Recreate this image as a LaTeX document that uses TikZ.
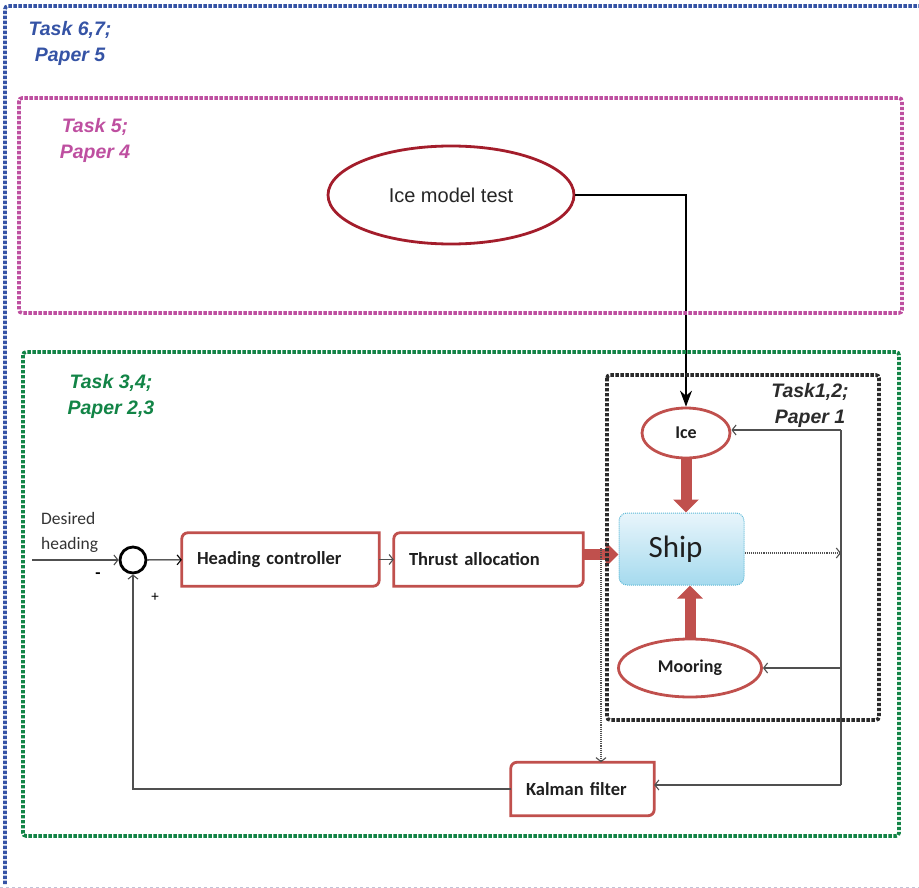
\documentclass[tikz,border=0pt]{standalone}
\usepackage{fontspec}
\setmainfont{Carlito}
\newfontfamily\arialf{Liberation Sans}
\usetikzlibrary{arrows.meta,shapes.geometric,calc}
\definecolor{fblue}{HTML}{3553A5}
\definecolor{fmag}{HTML}{BE4FA0}
\definecolor{fgreen}{HTML}{128446}
\definecolor{fdark}{HTML}{2B2B2B}
\definecolor{boxred}{HTML}{C0504D}
\definecolor{ellred}{HTML}{A31D2B}
\definecolor{shiptop}{HTML}{E8F5FB}
\definecolor{shipbot}{HTML}{A5DAEE}
\definecolor{shipedge}{HTML}{5BB8D6}
\definecolor{linegray}{HTML}{505050}
\begin{document}
\begin{tikzpicture}[x=1pt,y=1pt,
  frame/.style={line width=3.6pt, dash pattern=on 3.4pt off 1.6pt, rounded corners=3pt},
  tasklabel/.style={align=center, inner sep=0pt, font=\arialf\bfseries\itshape\fontsize{19.5}{26}\selectfont},
  blockbox/.style={minimum height=53pt, inner xsep=15pt, inner ysep=0pt, align=left, text=black!88, font=\bfseries\fontsize{18.5}{22}\selectfont},
  boxline/.style={draw=boxred, line width=2.8pt},
  ellnode/.style={ellipse, draw=boxred, line width=2.8pt, inner sep=0pt, text=black!88, font=\bfseries\fontsize{18}{22}\selectfont},
  conn/.style={draw=linegray, line width=1.1pt},
  opentip/.style={-{Straight Barb[length=4pt,width=10pt]}},
  bigarrow/.style={draw=boxred, line width=11pt, -{Triangle[length=13pt,width=25pt]}},
]
\useasboundingbox (0,0) rectangle (919,-888);

% nodes
\node[ellipse, draw=ellred, line width=2.8pt, minimum width=246pt, minimum height=98pt, inner sep=0pt,
      text=black!85, font=\arialf\fontsize{20}{24}\selectfont] (imt) at (451,-195) {Ice model test};
\node[ellnode, minimum width=88pt, minimum height=50pt] (ice) at (686,-433) {Ice};
\node[ellnode, minimum width=143pt, minimum height=58pt] (moor) at (690,-668) {Mooring};
\node[rounded corners=8pt, top color=shiptop, bottom color=shipbot, draw=shipedge, densely dotted,
      line width=1pt, minimum width=125pt, minimum height=72pt, inner sep=0pt, text=black!88,
      font=\fontsize{31}{34}\selectfont] (ship) at (681.5,-549) {Ship\hspace*{12pt}};
\node[blockbox, text width=167pt] (hc) at (280.5,-559.5) {Heading controller};
\node[blockbox, text width=159pt] (ta) at (488.5,-559.5) {Thrust allocation};
\node[blockbox, text width=113pt] (kf) at (582.5,-789) {Kalman filter};
\foreach \n in {hc,ta,kf}
  \draw[boxline] (\n.south west) -- ([yshift=-6pt]\n.north west) arc[start angle=180,end angle=90,radius=6pt]
    -- (\n.north east) -- ([yshift=6pt]\n.south east) arc[start angle=0,end angle=-90,radius=6pt] -- cycle;
\node[circle, draw=black, line width=2.8pt, minimum size=26pt, inner sep=0pt] (sum) at (133,-560) {};
\node[align=left, anchor=west, inner sep=0pt, text=black!80, font=\fontsize{17.5}{25}\selectfont] (dh) at (41,-532) {Desired\\heading};
\node[font=\bfseries\fontsize{17}{18}\selectfont] (minus) at (98,-576) {-};
\node[font=\fontsize{15}{16}\selectfont] (plus) at (155,-597) {+};

% connectors
\coordinate (in) at (32,-560);
\draw[conn, opentip] (in) -- (sum);
\draw[conn, draw=black, opentip] (sum) -- (hc);
\draw[conn, opentip] (hc) -- (ta);
\draw[bigarrow] ($(ta.east)+(0,5)$) -- ($(ta.east -| ship.west)+(0,5)$);
\draw[bigarrow] (ice.south) -- (ice.south |- ship.north);
\draw[bigarrow] (moor.north) -- (moor.north |- ship.south);
\draw[black, line width=1.3pt, -{Stealth[length=16pt,width=12pt]}] (imt.east) -| (ice.north);

\coordinate (r1) at (841,-430);
\coordinate (r2) at (841,-668);
\coordinate (r3) at (841,-785);
\coordinate (so) at (841,-553);
\coordinate (tj) at (601,-548);
\draw[conn] (r1) -- (r3);
\draw[conn, opentip] (r1) -- (r1 -| ice.east);
\draw[conn, opentip] (r2) -- (moor);
\draw[conn, opentip] (r3) -- (r3 -| kf.east);
\draw[conn, densely dotted, opentip] (ship.east |- so) -- (so);
\draw[conn, densely dotted, opentip] (tj) -- (tj |- kf.north);
\draw[conn, opentip] (kf.west) -| (sum.south);

% frames
\draw[fblue, frame] (5,-884) -- (5,-6) -- (930,-6);
\draw[blue!20!gray!40, dashed, line width=1pt] (0,-887) -- (919,-887);
\draw[fmag, frame] (19,-98) rectangle (902,-313);
\draw[fgreen, frame] (23,-352) rectangle (899,-836);
\draw[fdark, frame] (607,-375) rectangle (879,-720);

% labels
\node[tasklabel, text=fblue] (l67) at (70,-43) {Task 6,7;\\Paper 5};
\node[tasklabel, text=fmag] (l5) at (95,-140) {Task 5;\\Paper 4};
\node[tasklabel, text=fgreen] (l34) at (111,-396) {Task 3,4;\\Paper 2,3};
\node[tasklabel, text=fdark] (l12) at (810,-405) {Task1,2;\\Paper 1};
\end{tikzpicture}
\end{document}
